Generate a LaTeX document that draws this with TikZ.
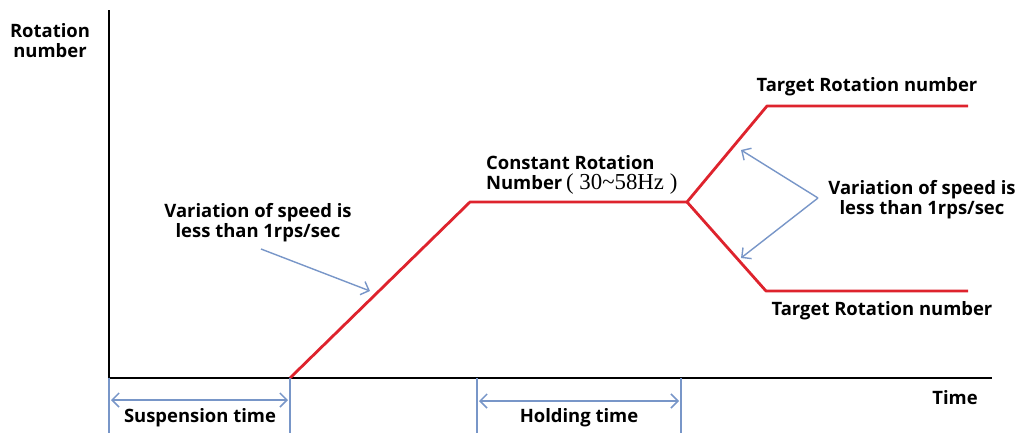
\documentclass[tikz,border=0pt]{standalone}
\usepackage{fontspec}
\setsansfont{Open Sans}
\newfontfamily\hzfont{Liberation Serif}
\usetikzlibrary{arrows.meta,positioning}

\definecolor{curvered}{RGB}{222,35,45}
\definecolor{dimblue}{RGB}{120,150,200}

\begin{document}
\begin{tikzpicture}[x=0.02cm,y=-0.02cm,
    lbl/.style={font=\sffamily\bfseries\fontsize{10.5}{11.4}\selectfont, align=center, inner sep=1pt},
    speed/.style={curvered, line width=1.6pt, line join=round},
    dimline/.style={dimblue, line width=0.8pt},
    dimarrow/.style={dimblue, line width=0.9pt, {Straight Barb[length=4pt,width=8pt]}-{Straight Barb[length=4pt,width=8pt]}},
    pointer/.style={dimblue, line width=0.8pt, -{Straight Barb[length=4pt,width=8pt]}}]

    \useasboundingbox (0,0) rectangle (1022,433);

    % Axes
    \coordinate (origin) at (109,378);
    \coordinate (ytop) at (109,10);
    \coordinate (xend) at (992,378);
    \draw[line width=1.6pt] (ytop) -- (origin) -- (xend);
    \node[lbl] (ylabel) at (50,41) {Rotation\\number};
    \node[lbl] (xlabel) at (955,398) {Time};

    % Rotation profile
    \coordinate (accStart) at (290,378);
    \coordinate (holdStart) at (470,202);
    \coordinate (holdEnd) at (687,202);
    \coordinate (upCorner) at (767,106);
    \coordinate (upEnd) at (968,106);
    \coordinate (downCorner) at (766,291);
    \coordinate (downEnd) at (968,291);
    \draw[speed] (accStart) -- (holdStart) -- (holdEnd) -- (upCorner) -- (upEnd);
    \draw[speed] (holdEnd) -- (downCorner) -- (downEnd);

    % Labels on the profile
    \node[lbl, align=left, anchor=west] (constLabel) at (484,175)
        {Constant Rotation\\Number{\hzfont\mdseries\fontsize{13}{11.4}\selectfont\,( 30\textasciitilde58Hz )}};
    \node[lbl] (upTarget) at (867,87) {Target Rotation number};
    \node[lbl] (downTarget) at (882,311) {Target Rotation number};
    \node[lbl] (leftSpeed) at (258,223) {Variation of speed is\\less than 1rps/sec};
    \node[lbl] (rightSpeed) at (922,200) {Variation of speed is\\less than 1rps/sec};

    % Pointers
    \coordinate (leftTail) at (261,249);
    \coordinate (leftTip) at (370,291);
    \draw[pointer] (leftTail) -- (leftTip);
    \coordinate (rightTail) at (818,198);
    \coordinate (upTip) at (741,150);
    \coordinate (downTip) at (741,258);
    \draw[pointer] (rightTail) -- (upTip);
    \draw[pointer] (rightTail) -- (downTip);

    % Time intervals
    \coordinate (susEnd) at (290,433);
    \coordinate (susBegin) at (109,433);
    \coordinate (holdTop) at (477,378);
    \coordinate (holdBottom) at (477,433);
    \coordinate (holdTop2) at (681,378);
    \coordinate (holdBottom2) at (681,433);
    \draw[dimline] (origin) -- (susBegin);
    \draw[dimline] (accStart) -- (susEnd);
    \draw[dimline] (holdTop) -- (holdBottom);
    \draw[dimline] (holdTop2) -- (holdBottom2);
    \coordinate (susL) at (111,400);
    \coordinate (susR) at (288,400);
    \coordinate (holdL) at (479,401);
    \coordinate (holdR) at (679,401);
    \draw[dimarrow] (susL) -- (susR);
    \draw[dimarrow] (holdL) -- (holdR);
    \node[lbl] (susLabel) at (200,418) {Suspension time};
    \node[lbl] (holdLabel) at (579,418) {Holding time};
\end{tikzpicture}
\end{document}
